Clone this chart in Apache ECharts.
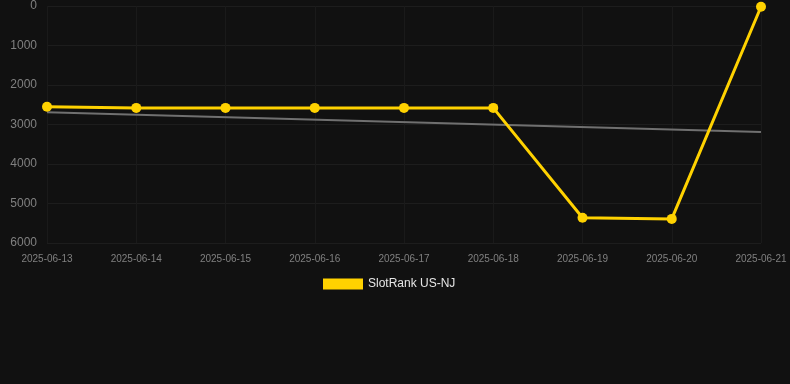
<!DOCTYPE html>
<html>
<head>
<meta charset="utf-8">
<script src="https://cdn.jsdelivr.net/npm/echarts@6/dist/echarts.min.js"></script>
<style>
html,body{margin:0;padding:0;background:#111111;}
#chart{width:790px;height:384px;}
</style>
</head>
<body>
<div id="chart"></div>
<script>
const categories = ['2025-06-13','2025-06-14','2025-06-15','2025-06-16','2025-06-17','2025-06-18','2025-06-19','2025-06-20','2025-06-21'];
const rankValues = [2550, 2580, 2580, 2580, 2580, 2580, 5360, 5390, 20];
const trendValues = [2690, null, null, null, null, null, null, null, 3190];
const yTicks = [0, 1000, 2000, 3000, 4000, 5000, 6000];

const chart = echarts.init(document.getElementById('chart'));
chart.setOption({
  backgroundColor: '#111111',
  animation: false,
  grid: { left: 47, right: 29, top: 6, bottom: 141 },
  legend: {
    data: ['SlotRank US-NJ'],
    top: 273,
    left: 318,
    itemWidth: 40,
    itemHeight: 11,
    itemGap: 6,
    icon: 'rect',
    textStyle: { color: '#e6e6e6', fontSize: 12, fontFamily: 'Liberation Sans, Arial, sans-serif' }
  },
  xAxis: {
    type: 'category',
    data: categories,
    boundaryGap: false,
    axisLine: { show: false },
    axisTick: { show: false },
    axisLabel: { color: '#808080', fontSize: 10, margin: 11, fontFamily: 'Liberation Sans, Arial, sans-serif' },
    splitLine: { show: true, lineStyle: { color: '#1a1a1a', width: 1 } }
  },
  yAxis: {
    type: 'value',
    inverse: true,
    min: yTicks[0],
    max: yTicks[yTicks.length - 1],
    interval: 1000,
    axisLine: { show: false },
    axisTick: { show: false },
    axisLabel: { color: '#808080', fontSize: 12, margin: 10, formatter: v => String(v), fontFamily: 'Liberation Sans, Arial, sans-serif' },
    splitLine: { show: true, lineStyle: { color: '#1d1d1d', width: 1 } }
  },
  series: [
    {
      name: 'Trend',
      type: 'line',
      data: trendValues,
      connectNulls: true,
      showSymbol: false,
      symbol: 'none',
      lineStyle: { color: '#707070', width: 2 },
      itemStyle: { color: '#707070' },
      z: 1
    },
    {
      name: 'SlotRank US-NJ',
      type: 'line',
      data: rankValues,
      symbol: 'circle',
      symbolSize: 10,
      lineStyle: { color: '#FFD200', width: 3 },
      itemStyle: { color: '#FFD200' },
      z: 2
    }
  ]
});
</script>
</body>
</html>
